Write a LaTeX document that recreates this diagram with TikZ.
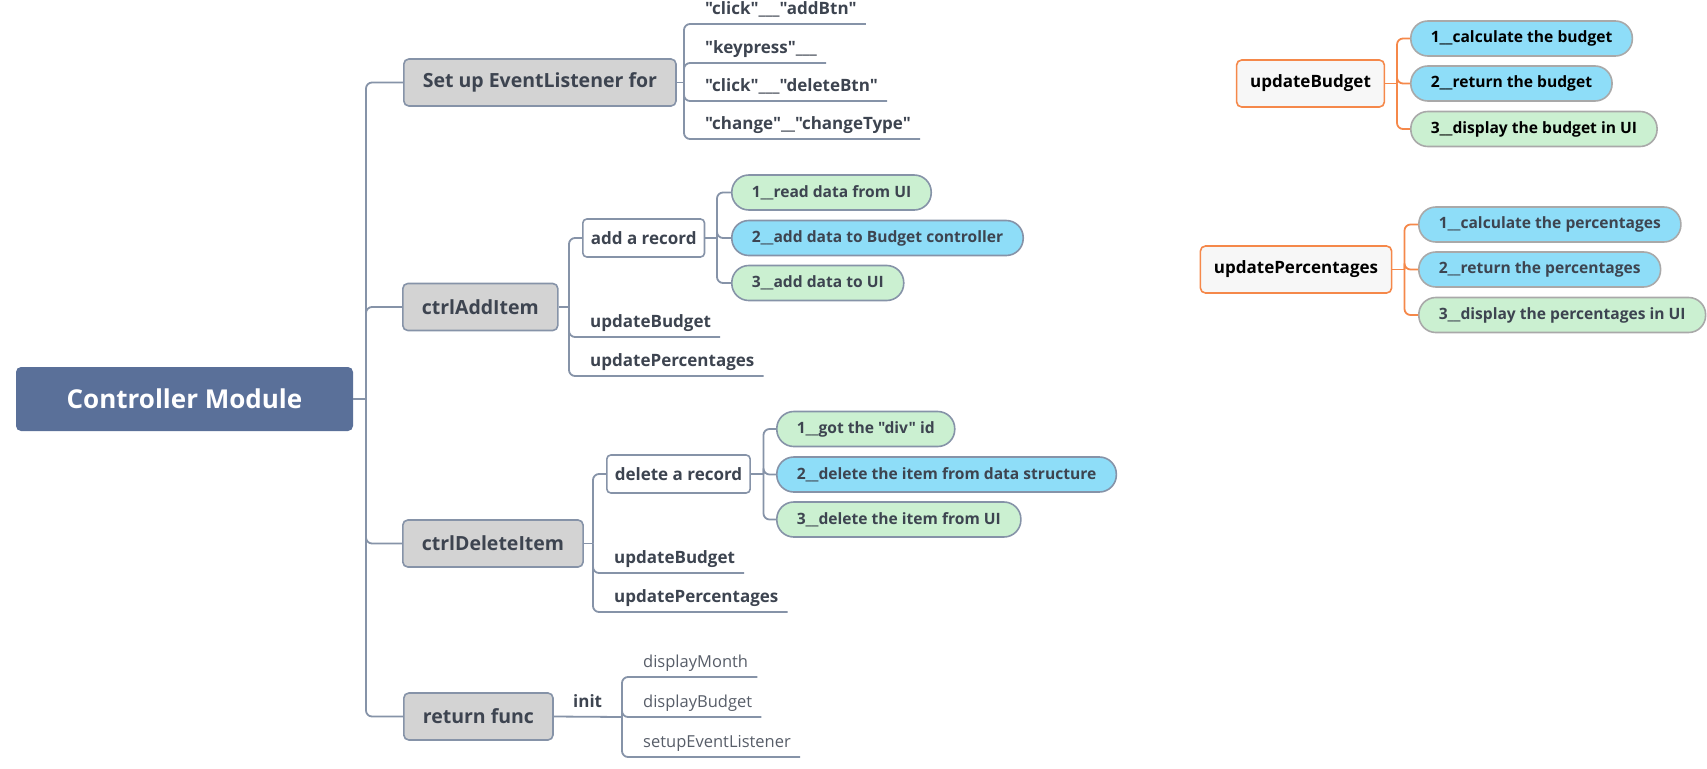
\documentclass[tikz,border=0pt]{standalone}
\usepackage{fontspec}
\setmainfont{Open Sans}[Ligatures=TeXOff]
\usepackage{tikz}
\usetikzlibrary{positioning}
\definecolor{rootblue}{HTML}{5A7099}
\definecolor{linegray}{HTML}{8693A8}
\definecolor{boxgray}{HTML}{D3D3D3}
\definecolor{textgray}{HTML}{3D4450}
\definecolor{leafgray}{HTML}{575D68}
\definecolor{pillgreen}{HTML}{CBF0D1}
\definecolor{pillblue}{HTML}{8EDDF8}
\definecolor{edgeorange}{HTML}{F5884A}
\definecolor{lightborder}{HTML}{A9A9A9}
\definecolor{paleface}{HTML}{F7F7F7}
\tikzset{
    myroot/.style={rectangle,rounded corners=5pt,fill=rootblue,text=white,font=\bfseries\fontsize{26}{30}\selectfont,minimum width=337pt,minimum height=64pt},
    mybox/.style={rectangle,rounded corners=5pt,draw=linegray,line width=1.6pt,fill=boxgray,text=textgray,font=\bfseries\fontsize{19.5}{24}\selectfont,minimum height=47pt,inner xsep=19pt},
    mysub/.style={rectangle,rounded corners=4pt,draw=linegray,line width=1.6pt,fill=white,text=textgray,font=\bfseries\fontsize{17}{20}\selectfont,minimum height=38pt,inner xsep=8pt},
    mypill/.style={rectangle,rounded corners=17pt,draw=linegray,line width=1.6pt,text=textgray,font=\bfseries\fontsize{15.6}{18}\selectfont,minimum height=35pt,inner xsep=20pt,anchor=west},
    mypillr/.style={mypill,draw=lightborder,text=black},
    myboxo/.style={rectangle,rounded corners=5pt,draw=edgeorange,line width=1.6pt,fill=paleface,text=black,font=\bfseries\fontsize{17}{20}\selectfont,minimum height=47pt,inner xsep=13.5pt},
    myleaf/.style={anchor=south west,inner xsep=9pt,inner ysep=5pt,text height=13pt,text depth=4pt,text=textgray,font=\bfseries\fontsize{17}{20}\selectfont},
    myleafr/.style={myleaf,text=leafgray,font=\fontsize{16.5}{20}\selectfont},
    mylink/.style={draw=linegray,line width=1.8pt,rounded corners=6pt},
    mylinko/.style={mylink,draw=edgeorange}
}
\begin{document}
\begin{tikzpicture}[x=1pt,y=-1pt]
  \useasboundingbox (0,0) rectangle (1707,768);

  % trunk
  \node[myroot] (root) at (184.5,399) {Controller Module};
  \coordinate (rootJ) at (366,399);
  \node[mybox,anchor=west] (setup) at (403,82.5) {Set up EventListener for};
  \node[mybox,anchor=west] (ctrlAdd) at (402,307) {ctrlAddItem};
  \node[mybox,anchor=west] (ctrlDel) at (402,543.5) {ctrlDeleteItem};
  \node[mybox,anchor=west] (retFunc) at (403,716.5) {return func};
  \draw[mylink] (root.east) -- (rootJ);
  \foreach \n in {setup,ctrlAdd,ctrlDel,retFunc}
    \draw[mylink] (rootJ) |- (\n.west);

  % event listeners
  \coordinate (setupJ) at (684,82.5);
  \node[myleaf] (ev1) at (696,24) {"click"\_\_\_"addBtn"};
  \node[myleaf] (ev2) at (696,63) {"keypress"\_\_\_};
  \node[myleaf] (ev3) at (696,101) {"click"\_\_\_"deleteBtn"};
  \node[myleaf] (ev4) at (696,139) {"change"\_\_"changeType"};
  \draw[mylink] (setup.east) -- (setupJ);
  \foreach \n in {ev1,ev2,ev3,ev4}
    \draw[mylink] (setupJ) |- (\n.south east);

  % ctrlAddItem
  \coordinate (addJ) at (569,307);
  \node[mysub,anchor=west] (addRec) at (582,238) {add a record};
  \node[myleaf] (addUB) at (581,337) {updateBudget};
  \node[myleaf] (addUP) at (581,376) {updatePercentages};
  \draw[mylink] (ctrlAdd.east) -- (addJ);
  \draw[mylink] (addJ) |- (addRec.west);
  \draw[mylink] (addJ) |- (addUB.south east);
  \draw[mylink] (addJ) |- (addUP.south east);

  \coordinate (recJ) at (717,238);
  \node[mypill,fill=pillgreen] (add1) at (731,192.5) {1\_\_read data from UI};
  \node[mypill,fill=pillblue] (add2) at (731,238) {2\_\_add data to Budget controller};
  \node[mypill,fill=pillgreen] (add3) at (731,283) {3\_\_add data to UI};
  \draw[mylink] (addRec.east) -- (recJ);
  \foreach \n in {add1,add2,add3}
    \draw[mylink] (recJ) |- (\n.west);

  % ctrlDeleteItem
  \coordinate (delJ) at (593,543.5);
  \node[mysub,anchor=west] (delRec) at (606,474) {delete a record};
  \node[myleaf] (delUB) at (605,573) {updateBudget};
  \node[myleaf] (delUP) at (605,612) {updatePercentages};
  \draw[mylink] (ctrlDel.east) -- (delJ);
  \draw[mylink] (delJ) |- (delRec.west);
  \draw[mylink] (delJ) |- (delUB.south east);
  \draw[mylink] (delJ) |- (delUP.south east);

  \coordinate (drecJ) at (763.5,474);
  \node[mypill,fill=pillgreen] (del1) at (776,429) {1\_\_got the "div" id};
  \node[mypill,fill=pillblue] (del2) at (776,474.5) {2\_\_delete the item from data structure};
  \node[mypill,fill=pillgreen] (del3) at (776,519.5) {3\_\_delete the item from UI};
  \draw[mylink] (delRec.east) -- (drecJ);
  \foreach \n in {del1,del2,del3}
    \draw[mylink] (drecJ) |- (\n.west);

  % return func / init
  \coordinate (initJ) at (622,717);
  \node[myleaf] (init) at (564,717) {init};
  \node[myleafr] (dMonth) at (634,677) {displayMonth};
  \node[myleafr] (dBudget) at (634,717) {displayBudget};
  \node[myleafr] (dSetup) at (634,757) {setupEventListener};
  \draw[mylink] (retFunc.east) -- (initJ);
  \foreach \n in {dMonth,dBudget,dSetup}
    \draw[mylink] (initJ) |- (\n.south east);

  % updateBudget
  \node[myboxo] (upBud) at (1310.5,83.5) {updateBudget};
  \coordinate (budJ) at (1397,83.5);
  \node[mypillr,fill=pillblue] (bud1) at (1410,38.5) {1\_\_calculate the budget};
  \node[mypillr,fill=pillblue] (bud2) at (1410,83.5) {2\_\_return the budget};
  \node[mypillr,fill=pillgreen] (bud3) at (1410,129) {3\_\_display the budget in UI};
  \draw[mylinko] (upBud.east) -- (budJ);
  \foreach \n in {bud1,bud2,bud3}
    \draw[mylinko] (budJ) |- (\n.west);

  % updatePercentages
  \node[myboxo] (upPer) at (1296,269.5) {updatePercentages};
  \coordinate (perJ) at (1404.5,269.5);
  \node[mypillr,fill=pillblue,text=textgray] (per1) at (1418,224.5) {1\_\_calculate the percentages};
  \node[mypillr,fill=pillblue,text=textgray] (per2) at (1418,269.5) {2\_\_return the percentages};
  \node[mypillr,fill=pillgreen,text=textgray] (per3) at (1418,315) {3\_\_display the percentages in UI};
  \draw[mylinko] (upPer.east) -- (perJ);
  \foreach \n in {per1,per2,per3}
    \draw[mylinko] (perJ) |- (\n.west);
\end{tikzpicture}
\end{document}
